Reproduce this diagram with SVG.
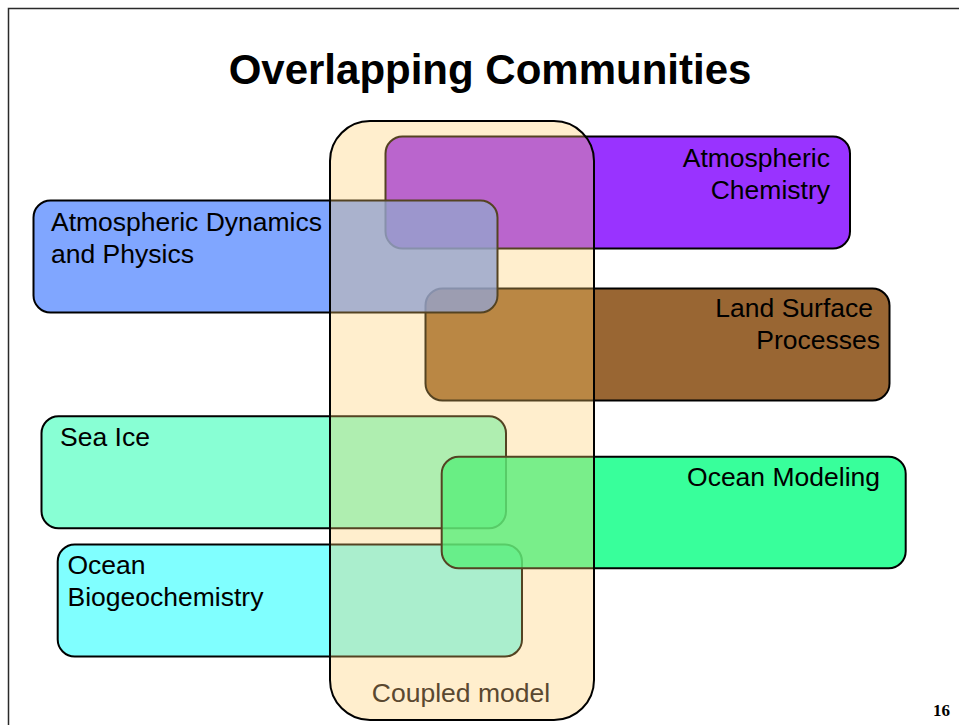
<svg xmlns="http://www.w3.org/2000/svg" width="959" height="725" viewBox="0 0 959 725">
  <style>
    .frame { fill: #ffffff; stroke: #2a2a2a; stroke-width: 1.5; }
    .title { font-family: "Liberation Sans", Arial, Helvetica, sans-serif; font-weight: bold; font-size: 42px; fill: #000000; }
    .box { stroke: #000000; stroke-width: 2; }
    .label { font-family: "Liberation Sans", Arial, Helvetica, sans-serif; font-size: 26.5px; fill: #000000; }
    .end { text-anchor: end; }
    .coupled { fill: #FFCC66; fill-opacity: 0.33; stroke: #000000; stroke-width: 2; }
    .coupled-label { font-family: "Liberation Sans", Arial, Helvetica, sans-serif; font-size: 26.5px; fill: #5a4830; text-anchor: middle; }
    .pagenum { font-family: "Liberation Serif", "Times New Roman", serif; font-weight: bold; font-size: 17px; fill: #000000; text-anchor: end; }
  </style>

  <!-- slide background and frame -->
  <rect x="0" y="0" width="959" height="725" fill="#ffffff"/>
  <rect class="frame" x="8.5" y="8.5" width="1000" height="800"/>

  <text class="title" x="490" y="84" text-anchor="middle">Overlapping Communities</text>

  <!-- community boxes, bottom-most first -->
  <g id="atmospheric-chemistry">
    <rect class="box" x="385.5" y="136.5" width="464.5" height="112" rx="17" fill="#9933FF"/>
    <text class="label end" x="830" y="167">Atmospheric</text>
    <text class="label end" x="830" y="199">Chemistry</text>
  </g>

  <g id="land-surface-processes">
    <rect class="box" x="425.5" y="288.5" width="464" height="112" rx="17" fill="#996633"/>
    <text class="label end" x="873" y="317">Land Surface</text>
    <text class="label end" x="880" y="349">Processes</text>
  </g>

  <g id="atmospheric-dynamics">
    <rect class="box" x="33.5" y="200.5" width="464" height="112" rx="17" fill="#6090FF" fill-opacity="0.8"/>
    <text class="label" x="51" y="231">Atmospheric Dynamics</text>
    <text class="label" x="51" y="263">and Physics</text>
  </g>

  <g id="sea-ice">
    <rect class="box" x="41.5" y="416.3" width="464.5" height="112" rx="17" fill="#88FFD4"/>
    <text class="label" x="60" y="446">Sea Ice</text>
  </g>

  <g id="ocean-biogeochemistry">
    <rect class="box" x="57.7" y="544.5" width="464.3" height="112" rx="17" fill="#80FFFF"/>
    <text class="label" x="67.5" y="574">Ocean</text>
    <text class="label" x="67.5" y="606">Biogeochemistry</text>
  </g>

  <g id="ocean-modeling">
    <rect class="box" x="441.7" y="456.7" width="464" height="111.6" rx="17" fill="#06FF82" fill-opacity="0.8"/>
    <text class="label end" x="880" y="486">Ocean Modeling</text>
  </g>

  <!-- translucent coupled-model envelope over the communities -->
  <g id="coupled-model">
    <rect class="coupled" x="330" y="121" width="264" height="599" rx="40"/>
    <text class="coupled-label" x="461" y="702">Coupled model</text>
  </g>

  <text class="pagenum" x="950" y="716">16</text>
</svg>
